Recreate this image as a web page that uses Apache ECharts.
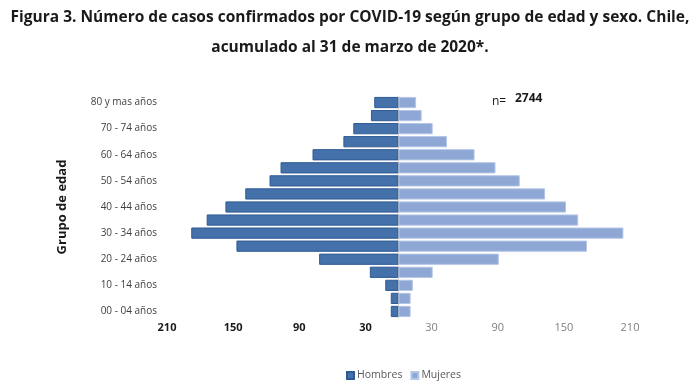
<!DOCTYPE html>
<html>
<head>
<meta charset="utf-8">
<script src="https://cdn.jsdelivr.net/npm/echarts@6/dist/echarts.min.js"></script>
<style>html,body{margin:0;padding:0;background:#fff;}#c{width:700px;height:389px;}</style>
</head>
<body>
<div id="c"></div>
<script>
const categories = ['00 - 04 años','05 - 09 años','10 - 14 años','15 - 19 años','20 - 24 años','25 - 29 años','30 - 34 años','35 - 39 años','40 - 44 años','45 - 49 años','50 - 54 años','55 - 59 años','60 - 64 años','65 - 69 años','70 - 74 años','75 - 79 años','80 y mas años'];
const hombres = [7, 7, 12, 26, 72, 147, 188, 174, 157, 139, 117, 107, 78, 50, 41, 25, 22];
const mujeres = [11, 11, 13, 31, 91, 171, 204, 163, 152, 133, 110, 88, 69, 44, 31, 21, 16];
const xTicks = [-210, -150, -90, -30, 30, 90, 150, 210];
const seriesNames = ['Hombres', 'Mujeres'];
const totalLabel = '2744';
const titleLines = ['Figura 3. Número de casos confirmados por COVID-19 según grupo de edad y sexo. Chile,', 'acumulado al 31 de marzo de 2020*.'];

const chart = echarts.init(document.getElementById('c'), null, {renderer: 'canvas'});
const font = "'Open Sans', 'Noto Sans', sans-serif";
const titleStyle = {fontFamily: font, fontWeight: 'bold', fontSize: 15.5, color: '#1a1a1a'};
chart.setOption({
  animation: false,
  textStyle: {fontFamily: font},
  title: [
    {text: titleLines[0], left: 'center', top: 5, textStyle: titleStyle},
    {text: titleLines[1], left: 'center', top: 35, textStyle: titleStyle}
  ],
  legend: {
    data: seriesNames,
    bottom: 3, left: 341,
    itemWidth: 7, itemHeight: 7, itemGap: 8,
    icon: 'rect',
    textStyle: {fontSize: 10.5, color: '#595959', fontFamily: font, padding: [0, 0, 0, -2]}
  },
  grid: {left: 167, right: 70, top: 96, bottom: 71, containLabel: false},
  xAxis: {
    type: 'value', min: -210, max: 210,
    splitLine: {show: false},
    axisLine: {show: false},
    axisTick: {show: false},
    axisLabel: {
      customValues: xTicks,
      margin: 4,
      formatter: v => v < 0 ? '{b|' + Math.abs(v) + '}' : '{g|' + v + '}',
      rich: {
        b: {fontSize: 11, fontWeight: 'bold', color: '#1a1a1a', fontFamily: font},
        g: {fontSize: 11, color: '#7f7f7f', fontFamily: font}
      }
    }
  },
  yAxis: {
    type: 'category', data: categories,
    name: 'Grupo de edad', nameLocation: 'middle', nameGap: 98, nameRotate: 90,
    nameTextStyle: {fontWeight: 'bold', fontSize: 13, color: '#1a1a1a', fontFamily: font},
    axisLine: {show: true, lineStyle: {color: '#d9d9d9', width: 1}},
    axisTick: {show: false},
    axisLabel: {
      interval: 1, margin: 10, fontSize: 10, color: '#404040', fontFamily: font
    }
  },
  series: [
    {
      name: seriesNames[0], type: 'bar', stack: 'p',
      data: hombres.map(v => -v),
      barCategoryGap: '14%',
      itemStyle: {color: '#4571ab', borderColor: '#2f5b94', borderWidth: 1}
    },
    {
      name: seriesNames[1], type: 'bar', stack: 'p',
      data: mujeres,
      barCategoryGap: '14%',
      itemStyle: {color: '#8fa7d4', borderColor: '#b5c6e6', borderWidth: 1}
    }
  ],
  graphic: [
    {type: 'text', left: 492, top: 96, style: {text: 'n=', fontSize: 12, fill: '#1a1a1a', fontFamily: font}},
    {type: 'text', left: 515, top: 93, style: {text: totalLabel, fontSize: 12, fontWeight: 'bold', fill: '#1a1a1a', fontFamily: font}}
  ]
});
</script>
</body>
</html>
